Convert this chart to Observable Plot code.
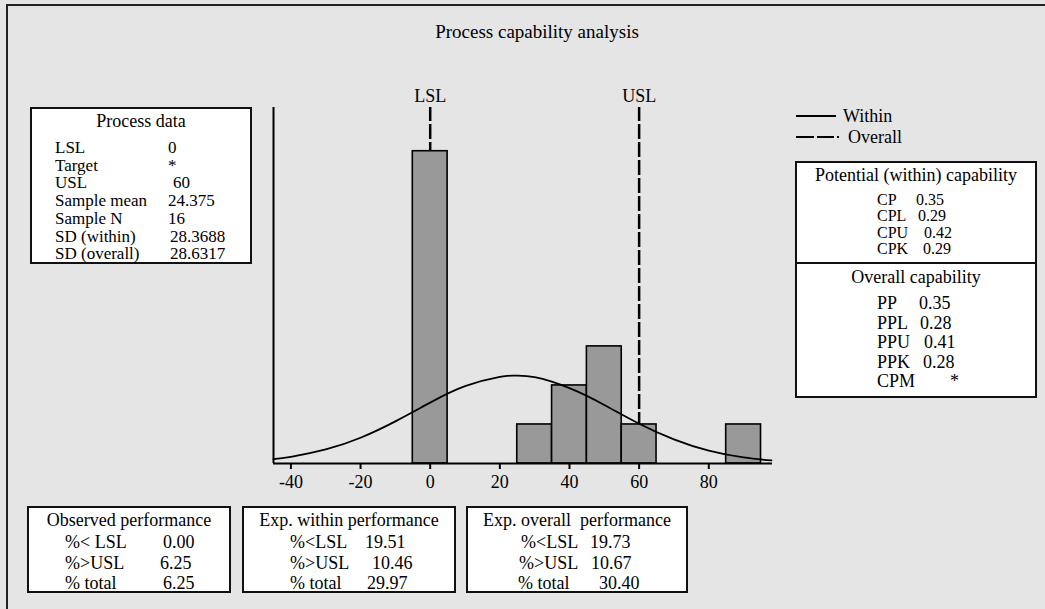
<!DOCTYPE html>
<html><head><meta charset="utf-8">
<script src="https://cdn.jsdelivr.net/npm/d3@7"></script>
<script src="https://cdn.jsdelivr.net/npm/@observablehq/plot@0.6"></script>
<style>
body{margin:0;background:#e5e5e5;}
#wrap{position:relative;width:1045px;height:609px;background:#e5e5e5;font-family:"Liberation Serif","Times New Roman",serif;color:#000;overflow:hidden;}
#wrap svg.plot{position:absolute;left:0;top:0;}
.box{position:absolute;border:2px solid #111;background:#fff;box-sizing:border-box;}
.t{position:absolute;white-space:pre;font-size:18px;line-height:14px;height:14px;}
.frameL{position:absolute;left:6px;top:4px;width:2px;height:605px;background:#222;}
.frameT{position:absolute;left:6px;top:4px;width:1039px;height:2px;background:#222;}
</style></head><body><div id="wrap"></div>
<script>
// ---- data ----
const binStarts = [-5, 25, 35, 45, 55, 85];
const binCounts = [8, 1, 2, 3, 1, 1];
const binWidth = 10;
const curveX = [-45, -40, -30, -20, -10, 0, 10, 20, 24.4, 30, 40, 50, 60, 70, 80, 90, 98];
const curveY = [0.11, 0.17, 0.36, 0.66, 1.08, 1.56, 1.98, 2.22, 2.25, 2.21, 1.93, 1.50, 1.02, 0.62, 0.33, 0.155, 0.08];
const specNames = ["LSL", "USL"];
const specValues = [0, 60];
const xTicks = [-40, -20, 0, 20, 40, 60, 80];
const titleText = "Process capability analysis";
const processTitle = "Process data";
const processLabels = ["LSL", "Target", "USL", "Sample mean", "Sample N", "SD (within)", "SD (overall)"];
const processValues = ["0", "*", "60", "24.375", "16", "28.3688", "28.6317"];
const legendLabels = ["Within", "Overall"];
const potTitle = "Potential (within) capability";
const potLabels = ["CP", "CPL", "CPU", "CPK"];
const potValues = ["0.35", "0.29", "0.42", "0.29"];
const ovTitle = "Overall capability";
const ovLabels = ["PP", "PPL", "PPU", "PPK", "CPM"];
const ovValues = ["0.35", "0.28", "0.41", "0.28", "*"];
const obsTitle = "Observed performance";
const obsLabels = ["%< LSL", "%>USL", "% total"];
const obsValues = ["0.00", "6.25", "6.25"];
const withinTitle = "Exp. within performance";
const withinLabels = ["%<LSL", "%>USL", "% total"];
const withinValues = ["19.51", "10.46", "29.97"];
const overallTitle = "Exp. overall  performance";
const overallLabels = ["%<LSL", "%>USL", "% total"];
const overallValues = ["19.73", "10.67", "30.40"];

// ---- build ----
const bins = binStarts.map((s, i) => ({x1: s, x2: s + binWidth, count: binCounts[i]}));
const curvePts = curveX.map((x, i) => ({x, y: curveY[i]}));
const specs = specNames.map((n, i) => ({name: n, value: specValues[i]}));
const yTop = 9.12;
const serif = "Liberation Serif, Times New Roman, serif";

const plot = Plot.plot({
  width: 1045, height: 609,
  marginLeft: 273, marginRight: 273, marginTop: 107, marginBottom: 146,
  style: {background: "transparent", fontFamily: serif, fontSize: "18px", overflow: "visible"},
  x: {domain: [-45, 98.3]},
  y: {domain: [0, yTop], axis: null},
  marks: [
    Plot.ruleX(specs, {x: "value", y1: 0, y2: yTop, stroke: "#000", strokeWidth: 2.5, strokeDasharray: "15,3"}),
    Plot.rectY(bins, {x1: "x1", x2: "x2", y: "count", fill: "#999999", stroke: "#000", strokeWidth: 1.6}),
    Plot.line(curvePts, {x: "x", y: "y", curve: "natural", stroke: "#000", strokeWidth: 1.8}),
    Plot.ruleX([-45], {y1: 0, y2: yTop, stroke: "#000", strokeWidth: 2}),
    Plot.ruleY([0], {stroke: "#000", strokeWidth: 2}),
    Plot.axisX({ticks: xTicks, tickFormat: d => String(d), tickSize: 6, tickPadding: 6, strokeWidth: 2, fontSize: 18, label: null, fill: "#000"}),
    Plot.text(specs, {x: "value", text: "name", frameAnchor: "top", dy: -11, fontSize: 18, fill: "#000", textAnchor: "middle", lineAnchor: "middle"})
  ]
});
plot.classList.add("plot");
const wrap = document.getElementById("wrap");
wrap.appendChild(plot);

function el(cls, css, text) {
  const d = document.createElement("div");
  d.className = cls;
  Object.assign(d.style, css);
  if (text != null) d.textContent = text;
  wrap.appendChild(d);
  return d;
}
function textAt(x, yc, s, opts = {}) {
  const d = el("t", {left: x + "px", top: (yc - 7) + "px"}, s);
  if (opts.size) d.style.fontSize = opts.size + "px";
  if (opts.center) d.style.transform = "translateX(-50%)";
  return d;
}
function box(l, t, r, b) { el("box", {left: l + "px", top: t + "px", width: (r - l) + "px", height: (b - t) + "px"}); }

el("frameL", {}); el("frameT", {});
textAt(537, 32, titleText, {center: true, size: 19});

// Process data
box(30, 107, 252, 264);
textAt(141, 121, processTitle, {center: true});
const pValX = [168, 168, 173, 168, 168, 170, 170];
processLabels.forEach((s, i) => { const y = 148 + i * 17.7; textAt(55, y, s, {size: 17}); textAt(pValX[i], y, processValues[i], {size: 17}); });

// Legend
const lg = document.createElementNS("http://www.w3.org/2000/svg", "svg");
lg.setAttribute("width", "60"); lg.setAttribute("height", "40");
Object.assign(lg.style, {position: "absolute", left: "790px", top: "106px"});
lg.innerHTML = '<line x1="6" x2="46" y1="10" y2="10" stroke="#000" stroke-width="2"/>' +
  '<line x1="6" x2="52" y1="31" y2="31" stroke="#000" stroke-width="2" stroke-dasharray="18,3,17,3,2"/>';
wrap.appendChild(lg);
textAt(843, 116, legendLabels[0]);
textAt(848, 137, legendLabels[1]);

// Capability box
box(795, 161, 1037, 398);
el("", {position: "absolute", left: "795px", top: "262px", width: "242px", height: "2px", background: "#111"});
textAt(916, 175, potTitle, {center: true});
const potY = [200, 216.3, 232.6, 248.9];
const potVX = [916, 918, 924, 923];
potLabels.forEach((s, i) => { textAt(877, potY[i], s, {size: 16}); textAt(potVX[i], potY[i], potValues[i], {size: 16}); });
textAt(916, 277, ovTitle, {center: true});
const ovY = [303, 322.5, 342, 361.5, 381];
const ovVX = [919, 920, 924, 923, 950];
ovLabels.forEach((s, i) => { textAt(877, ovY[i], s); textAt(ovVX[i], ovY[i], ovValues[i]); });

// Bottom boxes
const rowY = [542, 562.5, 583];
box(27, 506, 231, 593);
textAt(129, 520, obsTitle, {center: true});
const obsVX = [163, 160, 163];
obsLabels.forEach((s, i) => { textAt(65, rowY[i], s); textAt(obsVX[i], rowY[i], obsValues[i]); });

box(242, 506, 456, 593);
textAt(349, 520, withinTitle, {center: true});
const wVX = [365, 372, 367];
withinLabels.forEach((s, i) => { textAt(290, rowY[i], s); textAt(wVX[i], rowY[i], withinValues[i]); });

box(466, 506, 688, 593);
textAt(577, 520, overallTitle, {center: true});
const oLX = [521, 519, 518];
const oVX = [590, 591, 599];
overallLabels.forEach((s, i) => { textAt(oLX[i], rowY[i], s); textAt(oVX[i], rowY[i], overallValues[i]); });
</script></body></html>
